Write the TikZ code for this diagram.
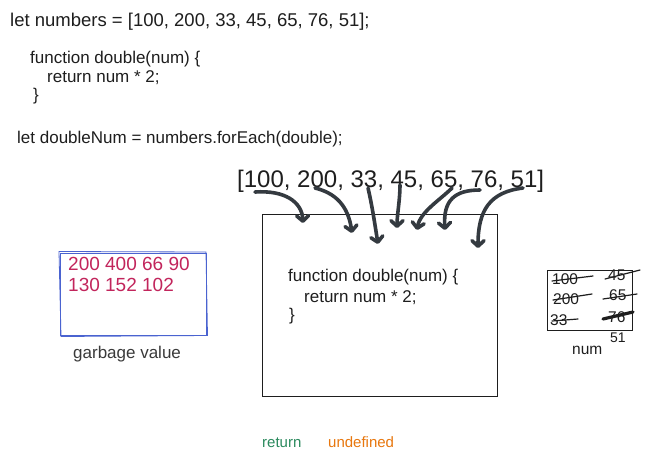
\documentclass[tikz,border=0pt]{standalone}
\usepackage{fontspec}
\setmainfont{Liberation Sans}
\usetikzlibrary{arrows.meta}
\definecolor{ink}{HTML}{1E1E1E}
\definecolor{arrowc}{HTML}{343A40}
\definecolor{boxblue}{HTML}{4A63D0}
\definecolor{numred}{HTML}{C2255C}
\definecolor{labgray}{HTML}{3A3A3A}
\definecolor{retgreen}{HTML}{2B8A5E}
\definecolor{undeforange}{HTML}{E8770E}
\tikzset{
  codetext/.style={anchor=base west,inner sep=0pt,text=ink,font=\fontsize{17}{20}\selectfont},
  bigtext/.style={anchor=base west,inner sep=0pt,text=ink,font=\fontsize{24}{28}\selectfont},
  redtext/.style={anchor=base west,inner sep=0pt,text=numred,font=\fontsize{19}{22}\selectfont},
  smalltext/.style={anchor=base west,inner sep=0pt,text=ink,font=\fontsize{15.5}{18}\selectfont},
  fatarrow/.style={draw=arrowc,line width=3.6pt,line cap=round,
    -{Straight Barb[length=5.5pt,width=12pt,round]}},
  strike/.style={draw=ink,line width=1.2pt,line cap=round},
}
\begin{document}
\begin{tikzpicture}[x=1pt,y=-1pt]
\useasboundingbox[fill=white] (0,0) rectangle (655,464);

% top code
\node[codetext,font=\fontsize{18.5}{22}\selectfont] (l1) at (10,26) {let numbers = [100, 200, 33, 45, 65, 76, 51];};
\node[codetext] (l2) at (30,63) {function double(num) \{};
\node[codetext] (l3) at (47,82) {return num * 2;};
\node[codetext] (l4) at (33,100) {\}};
\node[codetext] (l5) at (17,143) {let doubleNum = numbers.forEach(double);};

% array
\node[bigtext] (arr) at (237,187) {[100, 200, 33, 45, 65, 76, 51]};

% main box
\node[draw=ink,line width=1.4pt,minimum width=235pt,minimum height=182pt,anchor=north west,inner sep=0pt] (fbox) at (262,214) {};
\node[codetext] (b1) at (288,281) {function double(num) \{};
\node[codetext] (b2) at (304,302) {return num * 2;};
\node[codetext] (b3) at (289,320) {\}};

% arrows
\coordinate (s1) at (255,192); \coordinate (e1) at (303,223);
\coordinate (s2) at (315,188); \coordinate (e2) at (352,233);
\coordinate (s3) at (368,188); \coordinate (e3) at (378,244);
\coordinate (s4) at (400,185); \coordinate (e4) at (397,228);
\coordinate (s5) at (452,188); \coordinate (e5) at (417,230);
\coordinate (s6) at (480,190); \coordinate (e6) at (445,230);
\coordinate (s7) at (523,188); \coordinate (e7) at (478,248);
\draw[fatarrow] (s1) .. controls (285,190) and (302,202) .. (e1);
\draw[fatarrow] (s2) .. controls (335,193) and (348,205) .. (e2);
\draw[fatarrow] (s3) .. controls (372,205) and (375,225) .. (e3);
\draw[fatarrow] (s4) .. controls (400,200) and (397,215) .. (e4);
\draw[fatarrow] (s5) .. controls (440,200) and (420,212) .. (e5);
\draw[fatarrow] (s6) .. controls (455,190) and (443,200) .. (e6);
\draw[fatarrow] (s7) .. controls (490,192) and (478,210) .. (e7);

% garbage box
\node[draw=boxblue,line width=1pt,minimum width=146pt,minimum height=82pt,anchor=north west,inner sep=0pt] (gbox) at (60,253) {};
\draw[boxblue,line width=0.8pt] (59,251.5) -- (206,252) -- (207.5,335.5) -- (61,336.5) -- cycle;
\node[redtext] (g1) at (68,270) {200 400 66 90};
\node[redtext] (g2) at (68,291) {130 152 102};
\node[codetext,text=labgray] (glab) at (73,358) {garbage value};

% num box
\node[draw=ink,line width=1.4pt,minimum width=85pt,minimum height=60pt,anchor=north west,inner sep=0pt] (nbox) at (547,270) {};
\node[smalltext] (n100) at (552,284) {100};
\node[smalltext] (n45) at (608,280) {45};
\node[smalltext] (n200) at (553,304) {200};
\node[smalltext] (n65) at (609,300) {65};
\node[smalltext] (n33) at (550,325) {33};
\node[smalltext] (n76) at (608,322) {76};
\draw[strike] (552,281) -- (593,276);
\draw[strike] (605,279) -- (640,270);
\draw[strike] (553,300) -- (592,294);
\draw[strike] (603,299) -- (637,294);
\draw[strike] (552,321) -- (578,319);
\draw[strike,line width=3.2pt] (603,319) -- (633,312);
\node[smalltext,font=\fontsize{14}{16}\selectfont] (n51) at (610,342) {51};
\node[smalltext] (nlab) at (572,354) {num};

% bottom
\node[codetext,text=retgreen,font=\fontsize{15}{17}\selectfont] (ret) at (262,447) {return};
\node[codetext,text=undeforange,font=\fontsize{15}{17}\selectfont] (und) at (328,447) {undefined};
\end{tikzpicture}
\end{document}
